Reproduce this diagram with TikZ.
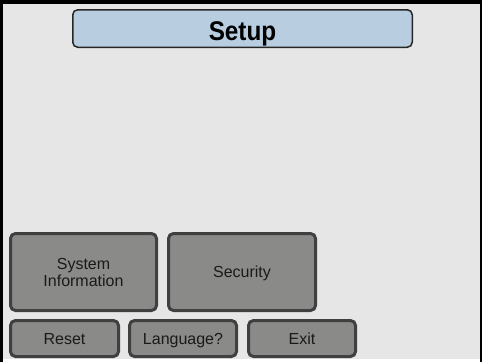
\documentclass[tikz,border=0pt]{standalone}
\usepackage{fontspec}
\setmainfont{Liberation Sans}
\newfontfamily\titlefont[FakeStretch=0.9]{Liberation Sans}
\definecolor{screenbg}{HTML}{E6E6E6}
\definecolor{titleblue}{HTML}{B8CEE0}
\definecolor{btnfill}{HTML}{8A8B88}
\definecolor{btnedge}{HTML}{404040}
\definecolor{btntext}{HTML}{1A1A1A}
\tikzset{
	btn/.style={draw=btnedge, line width=3pt, fill=btnfill, rounded corners=5pt,
		inner sep=0pt, align=center, text=btntext, font=\fontsize{16}{17}\selectfont},
	btnline/.style={btn, text height=11.5pt, text depth=0pt},
	titlebar/.style={draw=black!85, line width=1.5pt, fill=titleblue, rounded corners=5pt,
		inner sep=0pt, text height=23pt, text depth=0pt,
		font=\titlefont\bfseries\fontsize{27}{27}\selectfont}
}
\begin{document}
\begin{tikzpicture}[x=1pt, y=-1pt]
		\useasboundingbox (0,0) rectangle (482,362);
		% screen
		\fill[screenbg] (0,0) rectangle (482,362);
		\fill[black] (0,0) rectangle (482,4);
		\fill[black] (0,0) rectangle (3,362);
		\fill[black] (479.5,0) rectangle (482,362);
		\fill[white] (3,359) rectangle (479.5,362);
		
		% title bar
		\node[titlebar, minimum width=339.5pt, minimum height=37.5pt] (title) at (242.5,28.5) {Setup};
		
		% buttons
		\node[btn, minimum width=146pt, minimum height=77pt] (sysinfo) at (83.5,272) {System\\Information};
		\node[btnline, minimum width=147pt, minimum height=77pt] (security) at (242,272) {Security};
		\node[btnline, minimum width=108pt, minimum height=36pt] (reset) at (64.5,338.5) {Reset};
		\node[btnline, minimum width=107pt, minimum height=36pt] (language) at (183,338.5) {Language?};
		\node[btnline, minimum width=107pt, minimum height=36pt] (exit) at (302,338.5) {Exit};
	\end{tikzpicture}
\end{document}
